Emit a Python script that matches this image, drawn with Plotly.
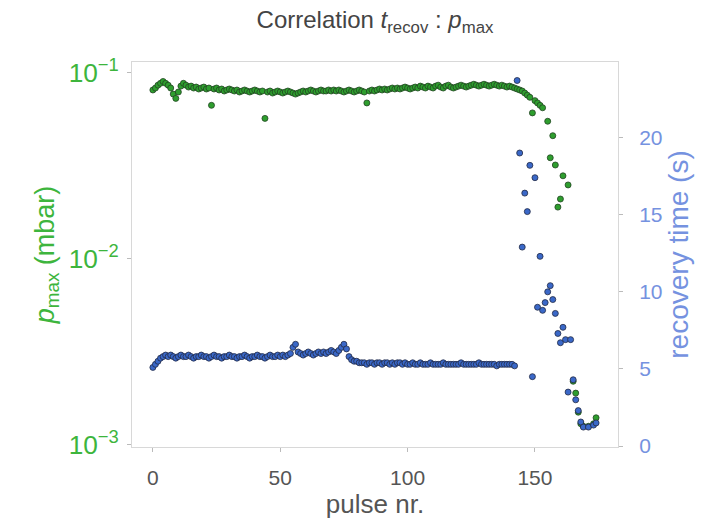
import plotly.graph_objects as go

# ---- data ----
# pressure maximum per pulse (mbar), pulses 0..153
pmax_band = [
    0.081, 0.083, 0.086, 0.088, 0.090, 0.088, 0.086, 0.083, 0.077, 0.073,
    0.079, 0.085, 0.088, 0.086, 0.084, 0.085, 0.083, 0.084, 0.082, 0.083,
    0.084, 0.082, 0.083, 0.067, 0.082, 0.083, 0.081, 0.082, 0.080, 0.081,
    0.082, 0.081, 0.080, 0.081, 0.079, 0.080, 0.081, 0.080, 0.079, 0.080,
    0.081, 0.080, 0.079, 0.080, 0.057, 0.079, 0.080, 0.078, 0.079, 0.080,
    0.079, 0.078, 0.079, 0.080, 0.079, 0.078, 0.077, 0.078, 0.079, 0.080,
    0.079, 0.080, 0.081, 0.080, 0.079, 0.080, 0.081, 0.080, 0.080, 0.081,
    0.080, 0.081, 0.080, 0.081, 0.080, 0.079, 0.080, 0.081, 0.080, 0.079,
    0.080, 0.081, 0.080, 0.079, 0.069, 0.080, 0.081, 0.080, 0.081, 0.082,
    0.081, 0.082, 0.081, 0.082, 0.083, 0.082, 0.083, 0.082, 0.083, 0.084,
    0.083, 0.082, 0.083, 0.084, 0.083, 0.085, 0.084, 0.083, 0.085, 0.084,
    0.083, 0.085, 0.086, 0.084, 0.083, 0.085, 0.086, 0.084, 0.083, 0.084,
    0.085, 0.086, 0.085, 0.084, 0.085, 0.086, 0.087, 0.086, 0.085, 0.086,
    0.087, 0.086, 0.085, 0.086, 0.087, 0.086, 0.085, 0.086, 0.085, 0.084,
    0.085, 0.084, 0.083, 0.082, 0.081, 0.080, 0.078, 0.076, 0.074, 0.061,
    0.071, 0.069, 0.067, 0.065,
]
pulse_p_tail = [155, 156, 157, 158, 159, 160, 161, 163, 165, 166, 167, 168, 169, 171, 173, 174]
pmax_tail = [0.055, 0.035, 0.046, 0.032, 0.019, 0.021, 0.028, 0.025,
             0.0022, 0.0019, 0.0015, 0.0013, 0.00126, 0.00126, 0.0013, 0.0014]

# recovery time per pulse (s), pulses 0..142
recov_band = [
    5.1, 5.3, 5.5, 5.7, 5.8, 5.9, 5.8, 5.9, 5.8, 5.7,
    5.8, 5.9, 5.8, 5.8, 5.9, 5.8, 5.7, 5.8, 5.8, 5.9,
    5.8, 5.8, 5.7, 5.8, 5.9, 5.8, 5.8, 5.7, 5.8, 5.8,
    5.9, 5.8, 5.8, 5.7, 5.8, 5.8, 5.9, 5.8, 5.7, 5.8,
    5.8, 5.9, 5.8, 5.8, 5.7, 5.8, 5.9, 5.8, 5.8, 5.9,
    5.8, 5.9, 5.8, 5.9, 6.0, 6.4, 6.6, 6.1, 6.0, 5.9,
    6.0, 6.1, 6.0, 5.9, 6.0, 6.1, 6.0, 6.1, 6.0, 6.1,
    6.2, 6.1, 6.0, 6.2, 6.4, 6.6, 6.3, 5.8, 5.6, 5.5,
    5.5, 5.4, 5.4, 5.4, 5.3, 5.4, 5.4, 5.3, 5.4, 5.4,
    5.3, 5.4, 5.4, 5.3, 5.4, 5.3, 5.4, 5.4, 5.3, 5.4,
    5.3, 5.3, 5.4, 5.3, 5.3, 5.4, 5.3, 5.3, 5.3, 5.4,
    5.3, 5.3, 5.3, 5.3, 5.4, 5.3, 5.3, 5.3, 5.3, 5.3,
    5.3, 5.4, 5.3, 5.3, 5.3, 5.3, 5.3, 5.3, 5.4, 5.3,
    5.3, 5.3, 5.3, 5.3, 5.3, 5.2, 5.3, 5.3, 5.3, 5.3,
    5.3, 5.3, 5.2,
]
pulse_r_tail = [143, 144, 145, 146, 147, 148, 149, 150, 151, 152, 153, 154, 155, 156, 157, 158,
                159, 160, 161, 162, 163, 164, 165, 166, 167, 168, 169, 171, 173, 174]
recov_tail = [23.7, 19.0, 12.9, 16.4, 15.2, 18.2, 4.5, 17.4, 9.0, 12.3, 8.8, 9.3, 10.0, 10.4, 9.5, 8.6,
              7.3, 6.7, 7.7, 6.9, 3.5, 6.9, 4.3, 3.0, 2.3, 1.56, 1.23, 1.23, 1.36, 1.5]

x_ticks = [0, 50, 100, 150]
y2_ticks = [0, 5, 10, 15, 20]

pulse_p = list(range(len(pmax_band))) + pulse_p_tail
pmax = pmax_band + pmax_tail
pulse_r = list(range(len(recov_band))) + pulse_r_tail
recov = recov_band + recov_tail

GREEN = "#2e9e2e"
GREEN_TXT = "#3db53d"
BLUE = "#3a68c8"
BLUE_TXT = "#7592e0"
FRAME = "#d8d8d8"

fig = go.Figure()
fig.add_trace(go.Scatter(
    x=pulse_p, y=pmax, mode="markers", yaxis="y",
    marker=dict(symbol="circle", size=6, color=GREEN, line=dict(color="#224422", width=0.8)),
    showlegend=False,
))
fig.add_trace(go.Scatter(
    x=pulse_r, y=recov, mode="markers", yaxis="y2",
    marker=dict(symbol="circle", size=6, color=BLUE, line=dict(color="#222a44", width=0.8)),
    showlegend=False,
))

font_family = "Liberation Sans, Arial, sans-serif"
fig.update_layout(
    width=717, height=519,
    margin=dict(l=132, r=99, t=62, b=72),
    paper_bgcolor="white", plot_bgcolor="white",
    font=dict(family=font_family, size=20, color="#555"),
    title=dict(
        text="Correlation <i>t</i><sub>recov</sub> : <i>p</i><sub>max</sub>",
        x=0.523, xanchor="center", y=0.962, yanchor="middle",
        font=dict(size=24, color="#444"),
    ),
    xaxis=dict(
        range=[-8.2, 182.6], tickvals=x_ticks, showgrid=False, zeroline=False,
        showline=True, linecolor=FRAME, linewidth=1, mirror=True,
        ticks="outside", ticklen=4, tickcolor="#bbb", ticklabelstandoff=8,
        tickfont=dict(size=21, color="#555"),
        title=dict(text="pulse nr.", font=dict(size=26, color="#555"), standoff=0),
    ),
    yaxis=dict(
        type="log", range=[-3.011, -0.941], dtick=1, exponentformat="power",
        showgrid=False, zeroline=False,
        showline=True, linecolor=FRAME, linewidth=1, mirror=True,
        ticks="outside", ticklen=4, tickcolor="#bbb", ticklabelstandoff=4,
        tickfont=dict(size=21, color=GREEN_TXT),
        title=dict(text="<i>p</i><sub>max</sub> (mbar)", font=dict(size=27, color=GREEN_TXT), standoff=6),
    ),
    yaxis2=dict(
        overlaying="y", side="right", range=[-0.06, 24.9], tickvals=y2_ticks,
        showgrid=False, zeroline=False, showline=False,
        ticks="outside", ticklen=4, tickcolor="#bbb", ticklabelstandoff=12,
        tickfont=dict(size=21, color=BLUE_TXT),
        title=dict(text="recovery time (s)", font=dict(size=28, color=BLUE_TXT), standoff=0),
    ),
)

fig.write_html("out.html")
